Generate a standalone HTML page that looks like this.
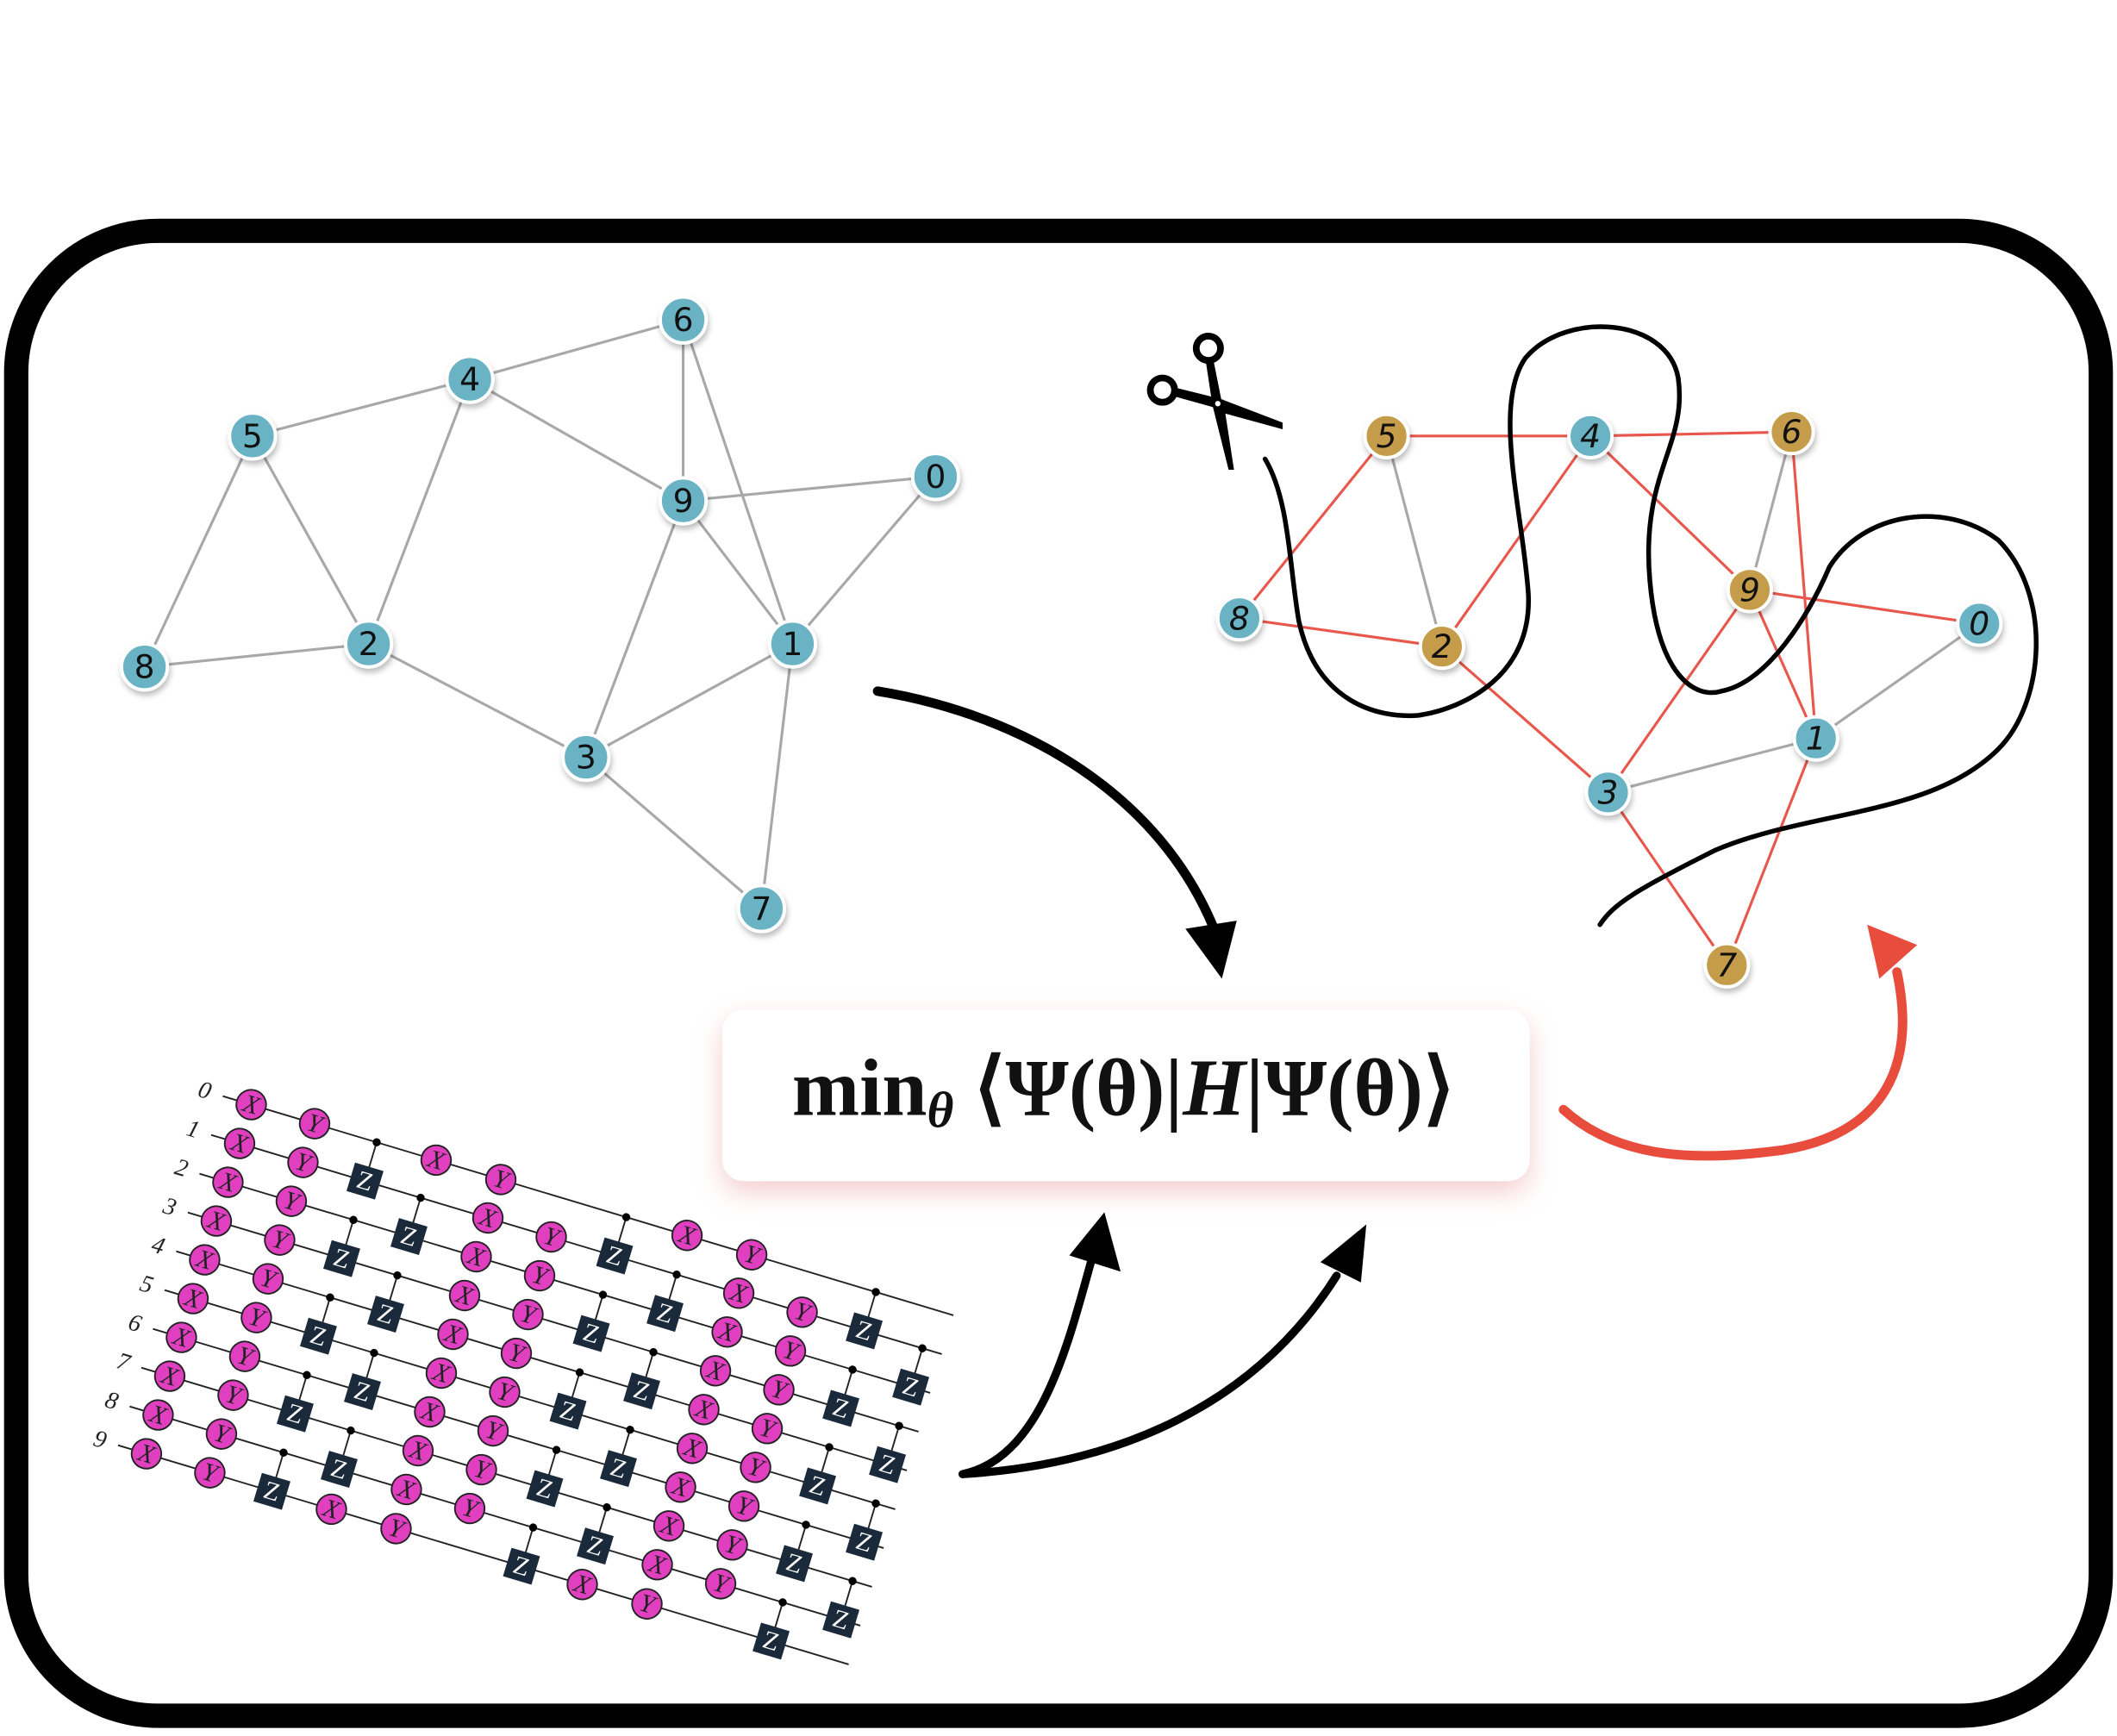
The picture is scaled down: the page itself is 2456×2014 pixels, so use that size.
<!DOCTYPE html>
<html><head><meta charset="utf-8">
<style>
html,body{margin:0;padding:0;background:#fff;}
svg{display:block;}
.e{stroke:#a8a8a8;stroke-width:2;}
.h{stroke:#fff;stroke-width:6;stroke-opacity:.9}
.r{stroke:#e8574c;stroke-width:2;}
.nl{font-family:"DejaVu Sans","Liberation Sans",sans-serif;font-size:24px;fill:#111;text-anchor:middle;dominant-baseline:central;}
.it{font-style:italic}
.w{stroke:#222;stroke-width:1.2}
.g circle{fill:#e040c0;stroke:#222;stroke-width:1.2}
.g text{font-family:"Liberation Serif",serif;font-style:italic;font-size:19px;fill:#222;text-anchor:middle;dominant-baseline:central}
.z rect{fill:#1a2a3a}
.z text{font-family:"Liberation Serif",serif;font-size:19px;fill:#fff;text-anchor:middle;dominant-baseline:central}
.ql{font-family:"Liberation Serif",serif;font-style:italic;font-size:18px;fill:#222;text-anchor:middle;dominant-baseline:central}
</style></head><body>
<svg width="2456" height="2014" viewBox="0 0 1568 1286" preserveAspectRatio="none" xmlns="http://www.w3.org/2000/svg">
<defs>
<filter id="sh" x="-20%" y="-20%" width="140%" height="160%"><feDropShadow dx="0" dy="8" stdDeviation="10" flood-color="#e89090" flood-opacity="0.45"/></filter>
<filter id="ns" x="-50%" y="-50%" width="200%" height="200%"><feDropShadow dx="1" dy="3" stdDeviation="2" flood-color="#000" flood-opacity="0.25"/></filter>
</defs>
<rect width="1568" height="1286" fill="#fff"/>
<rect x="12" y="171" width="1544" height="1100" rx="105" ry="105" fill="none" stroke="#000" stroke-width="18"/>

<!-- Graph 1 -->
<g>
<g class="h">
<line x1="187" y1="323" x2="348" y2="281"/><line x1="348" y1="281" x2="506" y2="237"/><line x1="348" y1="281" x2="506" y2="371"/><line x1="348" y1="281" x2="273" y2="477"/><line x1="187" y1="323" x2="273" y2="477"/><line x1="187" y1="323" x2="107" y2="494"/><line x1="107" y1="494" x2="273" y2="477"/><line x1="273" y1="477" x2="434" y2="561"/><line x1="506" y1="237" x2="506" y2="371"/><line x1="506" y1="237" x2="587" y2="477"/><line x1="506" y1="371" x2="693" y2="353"/><line x1="506" y1="371" x2="587" y2="477"/><line x1="506" y1="371" x2="434" y2="561"/><line x1="693" y1="353" x2="587" y2="477"/><line x1="434" y1="561" x2="587" y2="477"/><line x1="434" y1="561" x2="564" y2="673"/><line x1="587" y1="477" x2="564" y2="673"/>
</g>
<g class="e">
<line x1="187" y1="323" x2="348" y2="281"/><line x1="348" y1="281" x2="506" y2="237"/><line x1="348" y1="281" x2="506" y2="371"/><line x1="348" y1="281" x2="273" y2="477"/><line x1="187" y1="323" x2="273" y2="477"/><line x1="187" y1="323" x2="107" y2="494"/><line x1="107" y1="494" x2="273" y2="477"/><line x1="273" y1="477" x2="434" y2="561"/><line x1="506" y1="237" x2="506" y2="371"/><line x1="506" y1="237" x2="587" y2="477"/><line x1="506" y1="371" x2="693" y2="353"/><line x1="506" y1="371" x2="587" y2="477"/><line x1="506" y1="371" x2="434" y2="561"/><line x1="693" y1="353" x2="587" y2="477"/><line x1="434" y1="561" x2="587" y2="477"/><line x1="434" y1="561" x2="564" y2="673"/><line x1="587" y1="477" x2="564" y2="673"/>
</g>
<g fill="#69b3c4" stroke="#fff" stroke-width="2.5" filter="url(#ns)">
<circle cx="506" cy="237" r="17"/><circle cx="348" cy="281" r="17"/><circle cx="187" cy="323" r="17"/><circle cx="693" cy="353" r="17"/><circle cx="506" cy="371" r="17"/><circle cx="273" cy="477" r="17"/><circle cx="587" cy="477" r="17"/><circle cx="107" cy="494" r="17"/><circle cx="434" cy="561" r="17"/><circle cx="564" cy="673" r="17"/>
</g>
<text class="nl" x="506" y="237">6</text><text class="nl" x="348" y="281">4</text><text class="nl" x="187" y="323">5</text><text class="nl" x="693" y="353">0</text><text class="nl" x="506" y="371">9</text><text class="nl" x="273" y="477">2</text><text class="nl" x="587" y="477">1</text><text class="nl" x="107" y="494">8</text><text class="nl" x="434" y="561">3</text><text class="nl" x="564" y="673">7</text>
</g>

<!-- Graph 2 -->
<g>
<g class="h">
<line x1="1027" y1="323" x2="1178" y2="323"/><line x1="1178" y1="323" x2="1327" y2="320"/><line x1="1027" y1="323" x2="918" y2="458"/><line x1="918" y1="458" x2="1068" y2="479"/><line x1="1178" y1="323" x2="1068" y2="479"/><line x1="1178" y1="323" x2="1296" y2="437"/><line x1="1327" y1="320" x2="1345" y2="547"/><line x1="1296" y1="437" x2="1466" y2="462"/><line x1="1296" y1="437" x2="1191" y2="587"/><line x1="1296" y1="437" x2="1345" y2="547"/><line x1="1068" y1="479" x2="1191" y2="587"/><line x1="1191" y1="587" x2="1279" y2="715"/><line x1="1345" y1="547" x2="1279" y2="715"/><line x1="1027" y1="323" x2="1068" y2="479"/><line x1="1327" y1="320" x2="1296" y2="437"/><line x1="1466" y1="462" x2="1345" y2="547"/><line x1="1191" y1="587" x2="1345" y2="547"/>
</g>
<g class="r">
<line x1="1027" y1="323" x2="1178" y2="323"/><line x1="1178" y1="323" x2="1327" y2="320"/><line x1="1027" y1="323" x2="918" y2="458"/><line x1="918" y1="458" x2="1068" y2="479"/><line x1="1178" y1="323" x2="1068" y2="479"/><line x1="1178" y1="323" x2="1296" y2="437"/><line x1="1327" y1="320" x2="1345" y2="547"/><line x1="1296" y1="437" x2="1466" y2="462"/><line x1="1296" y1="437" x2="1191" y2="587"/><line x1="1296" y1="437" x2="1345" y2="547"/><line x1="1068" y1="479" x2="1191" y2="587"/><line x1="1191" y1="587" x2="1279" y2="715"/><line x1="1345" y1="547" x2="1279" y2="715"/>
</g>
<g class="e">
<line x1="1027" y1="323" x2="1068" y2="479"/><line x1="1327" y1="320" x2="1296" y2="437"/><line x1="1466" y1="462" x2="1345" y2="547"/><line x1="1191" y1="587" x2="1345" y2="547"/>
</g>
<g stroke="#fff" stroke-width="2.5" filter="url(#ns)">
<circle cx="1027" cy="323" r="16" fill="#c59c48"/><circle cx="1178" cy="323" r="16" fill="#69b3c4"/><circle cx="1327" cy="320" r="16" fill="#c59c48"/><circle cx="918" cy="458" r="16" fill="#69b3c4"/><circle cx="1068" cy="479" r="16" fill="#c59c48"/><circle cx="1296" cy="437" r="16" fill="#c59c48"/><circle cx="1466" cy="462" r="16" fill="#69b3c4"/><circle cx="1345" cy="547" r="16" fill="#69b3c4"/><circle cx="1191" cy="587" r="16" fill="#69b3c4"/><circle cx="1279" cy="715" r="16" fill="#c59c48"/>
</g>
<g class="nl it">
<text x="1027" y="323">5</text><text x="1178" y="323">4</text><text x="1327" y="320">6</text><text x="918" y="458">8</text><text x="1068" y="479">2</text><text x="1296" y="437">9</text><text x="1466" y="462">0</text><text x="1345" y="547">1</text><text x="1191" y="587">3</text><text x="1279" y="715">7</text>
</g>
</g>

<!-- scissors -->
<g stroke="#000" stroke-width="5" fill="none">
<circle cx="895" cy="258" r="9"/><circle cx="861" cy="289" r="9"/>
</g>
<path d="M893 267 L899 268 L905 298 L898 300 Z" fill="#000"/>
<path d="M870 287 L871 294 L900 302 L902 295 Z" fill="#000"/>
<path d="M897 296 L906 296 L914 348 L910 348 Z" fill="#000"/>
<path d="M900 294 L950 313 L950 318 L899 304 Z" fill="#000"/>
<circle cx="902" cy="299" r="2" fill="#fff"/>

<!-- string -->
<path d="M937 340 C955 370 955 420 962 460 C975 520 1020 532 1050 530 C1085 525 1135 500 1132 440 C1128 380 1105 300 1130 265 C1160 230 1235 235 1243 280 C1250 330 1215 350 1222 430 C1228 500 1255 518 1275 512 C1310 505 1340 455 1355 420 C1380 380 1440 370 1480 400 C1520 440 1515 520 1480 555 C1430 605 1340 600 1270 630 C1210 660 1195 670 1185 685" fill="none" stroke="#000" stroke-width="3.5" stroke-linecap="round"/>

<!-- formula box -->
<rect x="535" y="748" width="598" height="127" rx="16" fill="#fff" filter="url(#sh)"/>
<text x="832" y="806" text-anchor="middle" dominant-baseline="central" font-family="Liberation Serif,serif" font-weight="bold" font-size="60" fill="#111">min<tspan font-style="italic" font-size="38" dy="16">θ</tspan><tspan dy="-16"> ⟨Ψ(θ)|</tspan><tspan font-style="italic">H</tspan>|Ψ(θ)⟩</text>

<!-- arrows -->
<path d="M650 512 C760 530 860 590 900 690" fill="none" stroke="#000" stroke-width="7" stroke-linecap="round"/>
<path d="M878 688 L905 725 L916 682 Z" fill="#000"/>
<path d="M713 1092 C770 1080 790 1000 808 935" fill="none" stroke="#000" stroke-width="6" stroke-linecap="round"/>
<path d="M792 930 L818 898 L830 942 Z" fill="#000"/>
<path d="M713 1092 C830 1085 930 1040 990 945" fill="none" stroke="#000" stroke-width="6" stroke-linecap="round"/>
<path d="M978 935 L1012 907 L1008 950 Z" fill="#000"/>
<path d="M1158 822 C1200 860 1260 860 1320 852 C1395 840 1420 790 1405 720" fill="none" stroke="#e84c3d" stroke-width="7" stroke-linecap="round"/>
<path d="M1383 685 L1420 700 L1392 725 Z" fill="#e84c3d"/>

<!-- circuit -->
<g transform="translate(165,812) rotate(16.7)">
<g class="ql"><text x="-14" y="0">0</text><text x="-14" y="30">1</text><text x="-14" y="60">2</text><text x="-14" y="90">3</text><text x="-14" y="120">4</text><text x="-14" y="150">5</text><text x="-14" y="180">6</text><text x="-14" y="210">7</text><text x="-14" y="240">8</text><text x="-14" y="270">9</text></g>
<g class="w"><line x1="0" y1="0" x2="565" y2="0"/><line x1="0" y1="30" x2="565" y2="30"/><line x1="0" y1="60" x2="565" y2="60"/><line x1="0" y1="90" x2="565" y2="90"/><line x1="0" y1="120" x2="565" y2="120"/><line x1="0" y1="150" x2="565" y2="150"/><line x1="0" y1="180" x2="565" y2="180"/><line x1="0" y1="210" x2="565" y2="210"/><line x1="0" y1="240" x2="565" y2="240"/><line x1="0" y1="270" x2="565" y2="270"/>
<line x1="119" y1="0" x2="119" y2="30"/><line x1="119" y1="60" x2="119" y2="90"/><line x1="119" y1="120" x2="119" y2="150"/><line x1="119" y1="180" x2="119" y2="210"/><line x1="119" y1="240" x2="119" y2="270"/>
<line x1="312" y1="0" x2="312" y2="30"/><line x1="312" y1="60" x2="312" y2="90"/><line x1="312" y1="120" x2="312" y2="150"/><line x1="312" y1="180" x2="312" y2="210"/><line x1="312" y1="240" x2="312" y2="270"/>
<line x1="505" y1="0" x2="505" y2="30"/><line x1="505" y1="60" x2="505" y2="90"/><line x1="505" y1="120" x2="505" y2="150"/><line x1="505" y1="180" x2="505" y2="210"/><line x1="505" y1="240" x2="505" y2="270"/>
<line x1="162" y1="30" x2="162" y2="60"/><line x1="162" y1="90" x2="162" y2="120"/><line x1="162" y1="150" x2="162" y2="180"/><line x1="162" y1="210" x2="162" y2="240"/>
<line x1="360" y1="30" x2="360" y2="60"/><line x1="360" y1="90" x2="360" y2="120"/><line x1="360" y1="150" x2="360" y2="180"/><line x1="360" y1="210" x2="360" y2="240"/>
<line x1="550" y1="30" x2="550" y2="60"/><line x1="550" y1="90" x2="550" y2="120"/><line x1="550" y1="150" x2="550" y2="180"/><line x1="550" y1="210" x2="550" y2="240"/>
</g>
<g fill="#000">
<circle cx="119" cy="0" r="3"/><circle cx="119" cy="60" r="3"/><circle cx="119" cy="120" r="3"/><circle cx="119" cy="180" r="3"/><circle cx="119" cy="240" r="3"/>
<circle cx="312" cy="0" r="3"/><circle cx="312" cy="60" r="3"/><circle cx="312" cy="120" r="3"/><circle cx="312" cy="180" r="3"/><circle cx="312" cy="240" r="3"/>
<circle cx="505" cy="0" r="3"/><circle cx="505" cy="60" r="3"/><circle cx="505" cy="120" r="3"/><circle cx="505" cy="180" r="3"/><circle cx="505" cy="240" r="3"/>
<circle cx="162" cy="30" r="3"/><circle cx="162" cy="90" r="3"/><circle cx="162" cy="150" r="3"/><circle cx="162" cy="210" r="3"/>
<circle cx="360" cy="30" r="3"/><circle cx="360" cy="90" r="3"/><circle cx="360" cy="150" r="3"/><circle cx="360" cy="210" r="3"/>
<circle cx="550" cy="30" r="3"/><circle cx="550" cy="90" r="3"/><circle cx="550" cy="150" r="3"/><circle cx="550" cy="210" r="3"/>
</g>
<g class="z">
<g transform="translate(119,30)"><rect x="-11" y="-11" width="22" height="22"/><text>Z</text></g>
<g transform="translate(119,90)"><rect x="-11" y="-11" width="22" height="22"/><text>Z</text></g>
<g transform="translate(119,150)"><rect x="-11" y="-11" width="22" height="22"/><text>Z</text></g>
<g transform="translate(119,210)"><rect x="-11" y="-11" width="22" height="22"/><text>Z</text></g>
<g transform="translate(119,270)"><rect x="-11" y="-11" width="22" height="22"/><text>Z</text></g>
<g transform="translate(312,30)"><rect x="-11" y="-11" width="22" height="22"/><text>Z</text></g>
<g transform="translate(312,90)"><rect x="-11" y="-11" width="22" height="22"/><text>Z</text></g>
<g transform="translate(312,150)"><rect x="-11" y="-11" width="22" height="22"/><text>Z</text></g>
<g transform="translate(312,210)"><rect x="-11" y="-11" width="22" height="22"/><text>Z</text></g>
<g transform="translate(312,270)"><rect x="-11" y="-11" width="22" height="22"/><text>Z</text></g>
<g transform="translate(505,30)"><rect x="-11" y="-11" width="22" height="22"/><text>Z</text></g>
<g transform="translate(505,90)"><rect x="-11" y="-11" width="22" height="22"/><text>Z</text></g>
<g transform="translate(505,150)"><rect x="-11" y="-11" width="22" height="22"/><text>Z</text></g>
<g transform="translate(505,210)"><rect x="-11" y="-11" width="22" height="22"/><text>Z</text></g>
<g transform="translate(505,270)"><rect x="-11" y="-11" width="22" height="22"/><text>Z</text></g>
<g transform="translate(162,60)"><rect x="-11" y="-11" width="22" height="22"/><text>Z</text></g>
<g transform="translate(162,120)"><rect x="-11" y="-11" width="22" height="22"/><text>Z</text></g>
<g transform="translate(162,180)"><rect x="-11" y="-11" width="22" height="22"/><text>Z</text></g>
<g transform="translate(162,240)"><rect x="-11" y="-11" width="22" height="22"/><text>Z</text></g>
<g transform="translate(360,60)"><rect x="-11" y="-11" width="22" height="22"/><text>Z</text></g>
<g transform="translate(360,120)"><rect x="-11" y="-11" width="22" height="22"/><text>Z</text></g>
<g transform="translate(360,180)"><rect x="-11" y="-11" width="22" height="22"/><text>Z</text></g>
<g transform="translate(360,240)"><rect x="-11" y="-11" width="22" height="22"/><text>Z</text></g>
<g transform="translate(550,60)"><rect x="-11" y="-11" width="22" height="22"/><text>Z</text></g>
<g transform="translate(550,120)"><rect x="-11" y="-11" width="22" height="22"/><text>Z</text></g>
<g transform="translate(550,180)"><rect x="-11" y="-11" width="22" height="22"/><text>Z</text></g>
<g transform="translate(550,240)"><rect x="-11" y="-11" width="22" height="22"/><text>Z</text></g>
</g>
<g class="g">
<g transform="translate(22,0)"><circle r="11"/><text>X</text></g><g transform="translate(71,0)"><circle r="11"/><text>Y</text></g><g transform="translate(165,0)"><circle r="11"/><text>X</text></g><g transform="translate(215,0)"><circle r="11"/><text>Y</text></g><g transform="translate(359,0)"><circle r="11"/><text>X</text></g><g transform="translate(409,0)"><circle r="11"/><text>Y</text></g>
<g transform="translate(22,270)"><circle r="11"/><text>X</text></g><g transform="translate(71,270)"><circle r="11"/><text>Y</text></g><g transform="translate(165,270)"><circle r="11"/><text>X</text></g><g transform="translate(215,270)"><circle r="11"/><text>Y</text></g><g transform="translate(359,270)"><circle r="11"/><text>X</text></g><g transform="translate(409,270)"><circle r="11"/><text>Y</text></g>
<g transform="translate(22,30)"><circle r="11"/><text>X</text></g><g transform="translate(71,30)"><circle r="11"/><text>Y</text></g><g transform="translate(214,30)"><circle r="11"/><text>X</text></g><g transform="translate(263,30)"><circle r="11"/><text>Y</text></g><g transform="translate(408,30)"><circle r="11"/><text>X</text></g><g transform="translate(457,30)"><circle r="11"/><text>Y</text></g>
<g transform="translate(22,60)"><circle r="11"/><text>X</text></g><g transform="translate(71,60)"><circle r="11"/><text>Y</text></g><g transform="translate(214,60)"><circle r="11"/><text>X</text></g><g transform="translate(263,60)"><circle r="11"/><text>Y</text></g><g transform="translate(408,60)"><circle r="11"/><text>X</text></g><g transform="translate(457,60)"><circle r="11"/><text>Y</text></g>
<g transform="translate(22,90)"><circle r="11"/><text>X</text></g><g transform="translate(71,90)"><circle r="11"/><text>Y</text></g><g transform="translate(214,90)"><circle r="11"/><text>X</text></g><g transform="translate(263,90)"><circle r="11"/><text>Y</text></g><g transform="translate(408,90)"><circle r="11"/><text>X</text></g><g transform="translate(457,90)"><circle r="11"/><text>Y</text></g>
<g transform="translate(22,120)"><circle r="11"/><text>X</text></g><g transform="translate(71,120)"><circle r="11"/><text>Y</text></g><g transform="translate(214,120)"><circle r="11"/><text>X</text></g><g transform="translate(263,120)"><circle r="11"/><text>Y</text></g><g transform="translate(408,120)"><circle r="11"/><text>X</text></g><g transform="translate(457,120)"><circle r="11"/><text>Y</text></g>
<g transform="translate(22,150)"><circle r="11"/><text>X</text></g><g transform="translate(71,150)"><circle r="11"/><text>Y</text></g><g transform="translate(214,150)"><circle r="11"/><text>X</text></g><g transform="translate(263,150)"><circle r="11"/><text>Y</text></g><g transform="translate(408,150)"><circle r="11"/><text>X</text></g><g transform="translate(457,150)"><circle r="11"/><text>Y</text></g>
<g transform="translate(22,180)"><circle r="11"/><text>X</text></g><g transform="translate(71,180)"><circle r="11"/><text>Y</text></g><g transform="translate(214,180)"><circle r="11"/><text>X</text></g><g transform="translate(263,180)"><circle r="11"/><text>Y</text></g><g transform="translate(408,180)"><circle r="11"/><text>X</text></g><g transform="translate(457,180)"><circle r="11"/><text>Y</text></g>
<g transform="translate(22,210)"><circle r="11"/><text>X</text></g><g transform="translate(71,210)"><circle r="11"/><text>Y</text></g><g transform="translate(214,210)"><circle r="11"/><text>X</text></g><g transform="translate(263,210)"><circle r="11"/><text>Y</text></g><g transform="translate(408,210)"><circle r="11"/><text>X</text></g><g transform="translate(457,210)"><circle r="11"/><text>Y</text></g>
<g transform="translate(22,240)"><circle r="11"/><text>X</text></g><g transform="translate(71,240)"><circle r="11"/><text>Y</text></g><g transform="translate(214,240)"><circle r="11"/><text>X</text></g><g transform="translate(263,240)"><circle r="11"/><text>Y</text></g><g transform="translate(408,240)"><circle r="11"/><text>X</text></g><g transform="translate(457,240)"><circle r="11"/><text>Y</text></g>
</g>
</g>
</svg>
</body></html>
